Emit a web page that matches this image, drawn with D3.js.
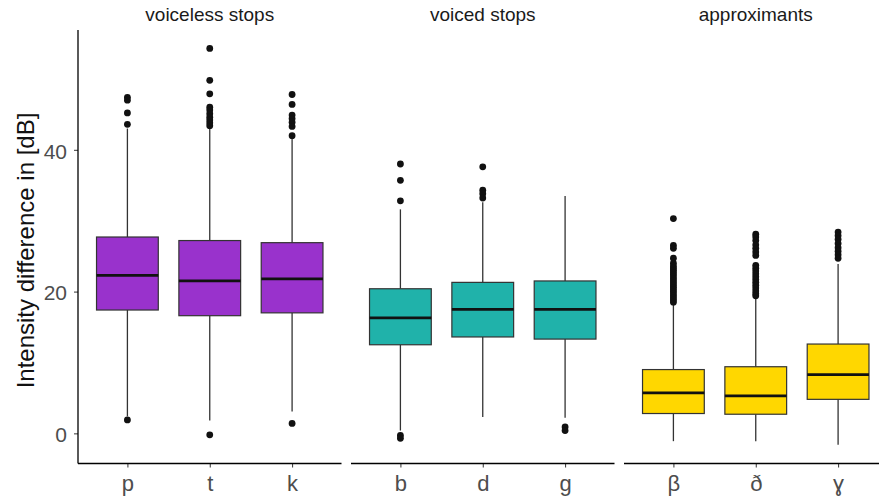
<!DOCTYPE html>
<html>
<head>
<meta charset="utf-8">
<script src="https://cdn.jsdelivr.net/npm/d3@7"></script>
<style>
  html, body { margin: 0; padding: 0; background: #fff; }
  svg { display: block; font-family: "Liberation Sans", Arial, sans-serif; }
</style>
</head>
<body>
<svg id="chart" width="879" height="498"></svg>
<script>
// ---- data ----
const groups = ["voiceless stops", "voiced stops", "approximants"];
const groupColors = ["#9932CC", "#20B2AA", "#FFD700"];
const categories = ["p", "t", "k", "b", "d", "g", "β", "ð", "ɣ"];
const categoryGroup = [0, 0, 0, 1, 1, 1, 2, 2, 2];
const whiskerLow  = [2.4, 1.8, 3.1, 0.4, 2.3, 2.2, -1.1, -1.1, -1.6];
const q1          = [17.4, 16.6, 17.0, 12.5, 13.6, 13.3, 2.8, 2.7, 4.8];
const median      = [22.3, 21.5, 21.8, 16.3, 17.5, 17.5, 5.7, 5.3, 8.3];
const q3          = [27.7, 27.2, 26.9, 20.4, 21.3, 21.5, 9.0, 9.4, 12.6];
const whiskerHigh = [43.0, 43.0, 41.6, 31.6, 32.6, 33.5, 18.3, 19.2, 23.9];
const outliers = [
  [47.4, 47.0, 45.2, 43.6, 1.9],
  [54.3, 49.8, 47.9, 46.0, 45.6, 45.1, 44.6, 44.2, 43.8, 43.4, -0.2],
  [47.8, 46.4, 44.9, 44.4, 43.9, 43.3, 42.0, 1.4],
  [38.0, 35.7, 32.8, -0.3, -0.7],
  [37.6, 34.3, 33.8, 33.2],
  [0.9, 0.4],
  [30.3, 26.5, 26.1, 24.7, 24.0, 23.6, 23.3, 23.0, 22.7, 22.4, 22.1, 21.8, 21.5, 21.2, 20.9, 20.6, 20.3, 20.0, 19.7, 19.4, 19.1, 18.8, 18.5],
  [28.1, 27.7, 27.2, 26.6, 26.1, 25.6, 25.1, 23.7, 23.3, 22.9, 22.5, 22.1, 21.7, 21.3, 20.9, 20.5, 20.1, 19.7, 19.4],
  [28.4, 27.9, 27.4, 26.8, 26.2, 25.7, 25.2, 24.7]
];
const yTicks = [0, 20, 40];
const yTitle = "Intensity difference in [dB]";

// ---- layout ----
const svg = d3.select("#chart");
const panelLeft = 78, panelWidth = 263.5, panelGap = 9.5;
const plotTop = 30, plotBottom = 463.5;

const y = d3.scaleLinear().domain([-4.25, 56.9]).range([plotBottom, plotTop]);

const fontColor = "#4d4d4d";
const fontFam = "\"Liberation Sans\", Arial, sans-serif";

groups.forEach((g, gi) => {
  const x0 = panelLeft + gi * (panelWidth + panelGap);
  const cats = categories.filter((c, i) => categoryGroup[i] === gi);
  // discrete scale like ggplot: expand 0.6 on each side
  const xp = d3.scaleLinear().domain([0.4, 3.6]).range([x0, x0 + panelWidth]);
  const boxW = xp(1.375) - xp(1);  // half width for 0.75 width box

  const panel = svg.append("g");

  // facet label
  panel.append("text")
    .attr("x", x0 + panelWidth / 2).attr("y", 21)
    .attr("text-anchor", "middle")
    .attr("font-size", 19).attr("fill", "#1a1a1a")
    .text(g);

  // x axis
  const xAxisScale = d3.scalePoint().domain(cats).range([xp(1), xp(3)]);
  const xAxis = panel.append("g")
    .attr("transform", `translate(0,${plotBottom})`)
    .call(d3.axisBottom(xAxisScale).tickSize(4).tickPadding(8));
  xAxis.select(".domain").remove();
  xAxis.append("line").attr("x1", x0).attr("x2", x0 + panelWidth)
    .attr("y1", 0).attr("y2", 0).attr("stroke", "#000").attr("stroke-width", 1.3);
  xAxis.selectAll(".tick line").attr("stroke", "#333").attr("stroke-width", 1);
  xAxis.selectAll(".tick text").attr("font-size", 22).attr("fill", fontColor)
    .attr("font-family", fontFam);

  // boxes
  categories.forEach((c, i) => {
    if (categoryGroup[i] !== gi) return;
    const cx = xAxisScale(c);
    const col = groupColors[gi];
    panel.append("line").attr("x1", cx).attr("x2", cx)
      .attr("y1", y(q3[i])).attr("y2", y(whiskerHigh[i]))
      .attr("stroke", "#333").attr("stroke-width", 1.3);
    panel.append("line").attr("x1", cx).attr("x2", cx)
      .attr("y1", y(q1[i])).attr("y2", y(whiskerLow[i]))
      .attr("stroke", "#333").attr("stroke-width", 1.3);
    panel.append("rect")
      .attr("x", cx - boxW).attr("width", boxW * 2)
      .attr("y", y(q3[i])).attr("height", y(q1[i]) - y(q3[i]))
      .attr("fill", col).attr("stroke", "#333").attr("stroke-width", 1.2);
    panel.append("line").attr("x1", cx - boxW).attr("x2", cx + boxW)
      .attr("y1", y(median[i])).attr("y2", y(median[i]))
      .attr("stroke", "#111").attr("stroke-width", 2.8);
    panel.selectAll(null).data(outliers[i]).enter().append("circle")
      .attr("cx", cx).attr("cy", d => y(d)).attr("r", 3.4)
      .attr("fill", "#111");
  });
});

// y axis (first panel only)
const yAxis = svg.append("g")
  .attr("transform", `translate(${panelLeft},0)`)
  .call(d3.axisLeft(y).tickValues(yTicks).tickSize(4).tickPadding(7));
yAxis.select(".domain").remove();
yAxis.append("line").attr("x1", 0).attr("x2", 0).attr("y1", plotTop).attr("y2", plotBottom)
  .attr("stroke", "#000").attr("stroke-width", 1.3);
yAxis.selectAll(".tick line").attr("stroke", "#333");
yAxis.selectAll(".tick text").attr("font-size", 21).attr("fill", fontColor)
  .attr("dy", "0.4em")
  .attr("font-family", fontFam);

// y title
svg.append("text")
  .attr("transform", `translate(34,250.5) rotate(-90)`)
  .attr("text-anchor", "middle")
  .attr("font-size", 24).attr("fill", "#111")
  .text(yTitle);
</script>
</body>
</html>
